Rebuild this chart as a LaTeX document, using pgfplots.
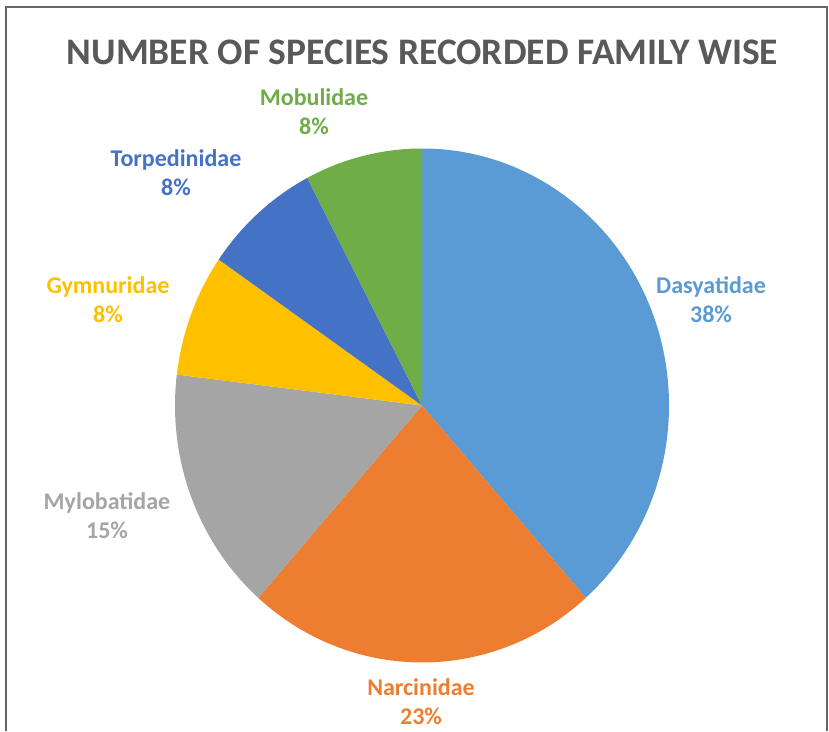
\documentclass[border=0pt]{standalone}
\usepackage{pgfplots}
\usepackage{pgfplotstable}
\pgfplotsset{compat=1.18}
\usepackage{fontspec}
\setmainfont{Carlito}
\definecolor{c0}{HTML}{5B9BD5}
\definecolor{c1}{HTML}{ED7D31}
\definecolor{c2}{HTML}{A5A5A5}
\definecolor{c3}{HTML}{FFC000}
\definecolor{c4}{HTML}{4472C4}
\definecolor{c5}{HTML}{70AD47}
\definecolor{titlegray}{HTML}{595959}
\pgfplotstableread{
name value lx ly
Dasyatidae 5 711 299.5
Narcinidae 3 421 701.5
Mylobatidae 2 107 515.5
Gymnuridae 1 108 299.5
Torpedinidae 1 176 172.5
Mobulidae 1 314 111.5
}\datatable
\begin{document}
\begin{tikzpicture}
\begin{axis}[
  width=829pt, height=731pt, scale only axis,
  xmin=0, xmax=829, ymin=0, ymax=731,
  hide axis, clip=false,
]
\addplot[draw=none] coordinates {(0,0) (829,731)};
\pgfplotsextra{
  \pgfplotstablegetrowsof{\datatable}
  \pgfmathtruncatemacro\lastrow{\pgfplotsretval-1}
  \gdef\total{0}
  \foreach \i in {0,...,\lastrow}{
    \pgfplotstablegetelem{\i}{value}\of\datatable
    \pgfmathsetmacro\tmp{\total+\pgfplotsretval}
    \xdef\total{\tmp}
  }
  \gdef\startang{90}
  \foreach \i in {0,...,\lastrow}{
    \pgfplotstablegetelem{\i}{value}\of\datatable
    \let\v\pgfplotsretval
    \pgfmathsetmacro\endang{\startang-360*\v/\total}
    \fill[c\i] (axis cs:422,325.5) -- ++(\startang:247pt and 257pt)
      arc[start angle=\startang, end angle=\endang, x radius=247pt, y radius=257pt] -- cycle;
    \xdef\startang{\endang}
    \pgfplotstablegetelem{\i}{name}\of\datatable \let\nm\pgfplotsretval
    \pgfplotstablegetelem{\i}{lx}\of\datatable \let\lx\pgfplotsretval
    \pgfplotstablegetelem{\i}{ly}\of\datatable \let\ly\pgfplotsretval
    \pgfmathtruncatemacro\pct{round(100*\v/\total)}
    \pgfmathsetmacro\lyy{731-\ly}
    \node[text=c\i, font=\bfseries\fontsize{24}{29}\selectfont, align=center]
      at (axis cs:\lx,\lyy) {\nm\\\pct\%};
  }
  \draw[line width=1.5pt, gray!80!black] (axis cs:6,0) -- (axis cs:6,724) -- (axis cs:827,724) -- (axis cs:827,0);
  \node[text=titlegray, font=\bfseries\fontsize{37.5}{44}\selectfont] at (axis cs:422.5,679) {NUMBER OF SPECIES RECORDED FAMILY WISE};
}
\end{axis}
\end{tikzpicture}
\end{document}
